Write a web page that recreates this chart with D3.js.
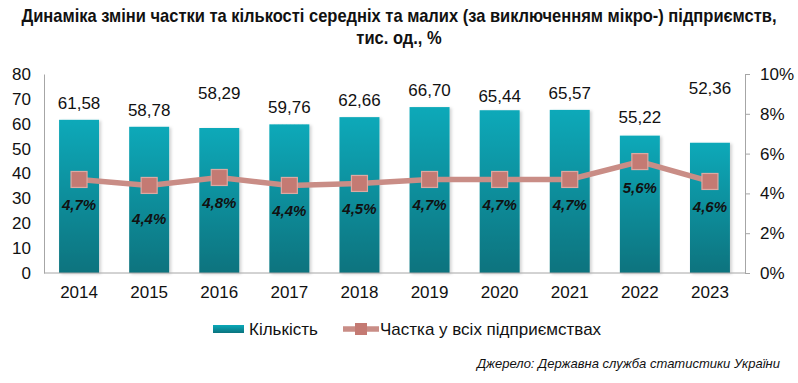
<!DOCTYPE html>
<html><head><meta charset="utf-8">
<script src="https://cdn.jsdelivr.net/npm/d3@7"></script>
<style>body{margin:0;background:#fff}svg{display:block;font-family:"Liberation Sans",Arial,sans-serif}</style>
</head><body><svg id="c" width="798" height="383"></svg>
<script>
const years = ["2014","2015","2016","2017","2018","2019","2020","2021","2022","2023"];
const counts = [61.58,58.78,58.29,59.76,62.66,66.70,65.44,65.57,55.22,52.36];
const shares = [4.7,4.4,4.8,4.4,4.5,4.7,4.7,4.7,5.6,4.6];
const leftTicks = [0,10,20,30,40,50,60,70,80];
const rightTicks = [0,2,4,6,8,10];
// extra label lift (px) used to reproduce the reference label placement
const countLabelLift = [0,0,18,0,0,0,-3,0,2,38];
const shareLabelDrop = [0,8,0,0,0,0,0,0,0,0];

const svg = d3.select("#c");
const m = {l:44, r:745, t:74, b:273};
const x = d3.scaleBand().domain(years).range([m.l, m.r]).paddingInner(0.43).paddingOuter(0.215);
const y = d3.scaleLinear().domain([0,80]).range([m.b, m.t]);
const y2 = d3.scaleLinear().domain([0,10]).range([m.b, m.t]);
const fmt = v => v.toFixed(2).replace(".", ",");
const fmtP = v => v.toFixed(1).replace(".", ",") + "%";

const defs = svg.append("defs");
const g = defs.append("linearGradient").attr("id","bg").attr("x1",0).attr("y1",0).attr("x2",0).attr("y2",1);
g.append("stop").attr("offset","0%").attr("stop-color","#0aa9b9");
g.append("stop").attr("offset","100%").attr("stop-color","#0a737e");
const f = defs.append("filter").attr("id","sh").attr("x","-20%").attr("y","-20%").attr("width","150%").attr("height","150%");
f.append("feDropShadow").attr("dx",2).attr("dy",1).attr("stdDeviation",1.5).attr("flood-color","#000").attr("flood-opacity",0.18);

// title (condensed to fit like the narrow font of the reference)
const titleLines = ["Динаміка зміни частки та кількості середніх та малих (за виключенням мікро-) підприємств,", "тис. од., %"];
const t1 = svg.append("text").attr("text-anchor","middle")
  .attr("font-weight","bold").attr("font-size",18).attr("fill","#111").text(titleLines[0]);
const w1 = t1.node().getComputedTextLength();
const sc = Math.min(1, 756 / w1);
t1.attr("transform",`translate(399,22) scale(${sc},1)`);
svg.append("text").attr("text-anchor","middle")
  .attr("font-weight","bold").attr("font-size",18).attr("fill","#111")
  .attr("transform",`translate(399,44) scale(${sc},1)`).text(titleLines[1]);

// bars
svg.append("g").selectAll("rect").data(counts).join("rect")
  .attr("x",(d,i)=>x(years[i])).attr("width",x.bandwidth())
  .attr("y",d=>y(d)).attr("height",d=>m.b-y(d))
  .attr("fill","url(#bg)").attr("filter","url(#sh)");

// axes
const left = svg.append("g").attr("transform",`translate(${m.l},0)`)
  .call(d3.axisLeft(y).tickValues(leftTicks).tickSize(0).tickPadding(13));
left.select(".domain").attr("stroke","#a6a6a6");
left.selectAll("text").attr("font-size",17).attr("fill","#111").attr("font-family","'Liberation Sans',Arial,sans-serif");

const right = svg.append("g").attr("transform",`translate(${m.r},0)`)
  .call(d3.axisRight(y2).tickValues(rightTicks).tickSize(5).tickPadding(10).tickFormat(d=>d+"%"));
right.select(".domain").attr("stroke","#a6a6a6");
right.selectAll("line").attr("stroke","#a6a6a6");
right.selectAll("text").attr("font-size",17).attr("fill","#111").attr("font-family","'Liberation Sans',Arial,sans-serif");

const bottom = svg.append("g").attr("transform",`translate(0,${m.b})`)
  .call(d3.axisBottom(x).tickSize(0).tickPadding(13));
bottom.select(".domain").attr("stroke","#a6a6a6").attr("d",`M${m.l},0H${m.r}`);
bottom.selectAll("text").attr("font-size",17).attr("fill","#111").attr("font-family","'Liberation Sans',Arial,sans-serif");

// count labels
svg.append("g").selectAll("text").data(counts).join("text")
  .attr("x",(d,i)=>x(years[i])+x.bandwidth()/2)
  .attr("y",(d,i)=>y(d)-11-countLabelLift[i])
  .attr("text-anchor","middle").attr("font-size",17).attr("fill","#111")
  .text(fmt);

// line
const cx = i => x(years[i]) + x.bandwidth()/2;
svg.append("path").datum(shares)
  .attr("d", d3.line().x((d,i)=>cx(i)).y(d=>y2(d)))
  .attr("fill","none").attr("stroke","#c98d86").attr("stroke-width",5.5);
svg.append("g").selectAll("rect").data(shares).join("rect")
  .attr("x",(d,i)=>cx(i)-8).attr("y",d=>y2(d)-8).attr("width",16).attr("height",16)
  .attr("fill","#c47a73").attr("stroke","#dca9a3").attr("stroke-width",1.2);

svg.append("g").selectAll("text").data(shares).join("text")
  .attr("x",(d,i)=>cx(i)).attr("y",(d,i)=>y2(d)+31+shareLabelDrop[i])
  .attr("text-anchor","middle").attr("font-size",15).attr("font-weight","bold").attr("font-style","italic")
  .attr("fill","#111").text(fmtP);

// legend
svg.append("rect").attr("x",213).attr("y",325).attr("width",31).attr("height",8).attr("fill","url(#bg)");
svg.append("text").attr("x",249).attr("y",335).attr("font-size",17).attr("fill","#111").text("Кількість");
svg.append("line").attr("x1",343).attr("x2",379).attr("y1",329).attr("y2",329).attr("stroke","#c98d86").attr("stroke-width",5.5);
svg.append("rect").attr("x",355).attr("y",323).attr("width",12).attr("height",12).attr("fill","#c47a73");
svg.append("text").attr("x",380).attr("y",335).attr("font-size",17).attr("fill","#111").text("Частка у всіх підприємствах");

svg.append("text").attr("x",780).attr("y",368).attr("text-anchor","end").attr("font-size",13)
  .attr("font-style","italic").attr("fill","#111").text("Джерело: Державна служба статистики України");
</script></body></html>
